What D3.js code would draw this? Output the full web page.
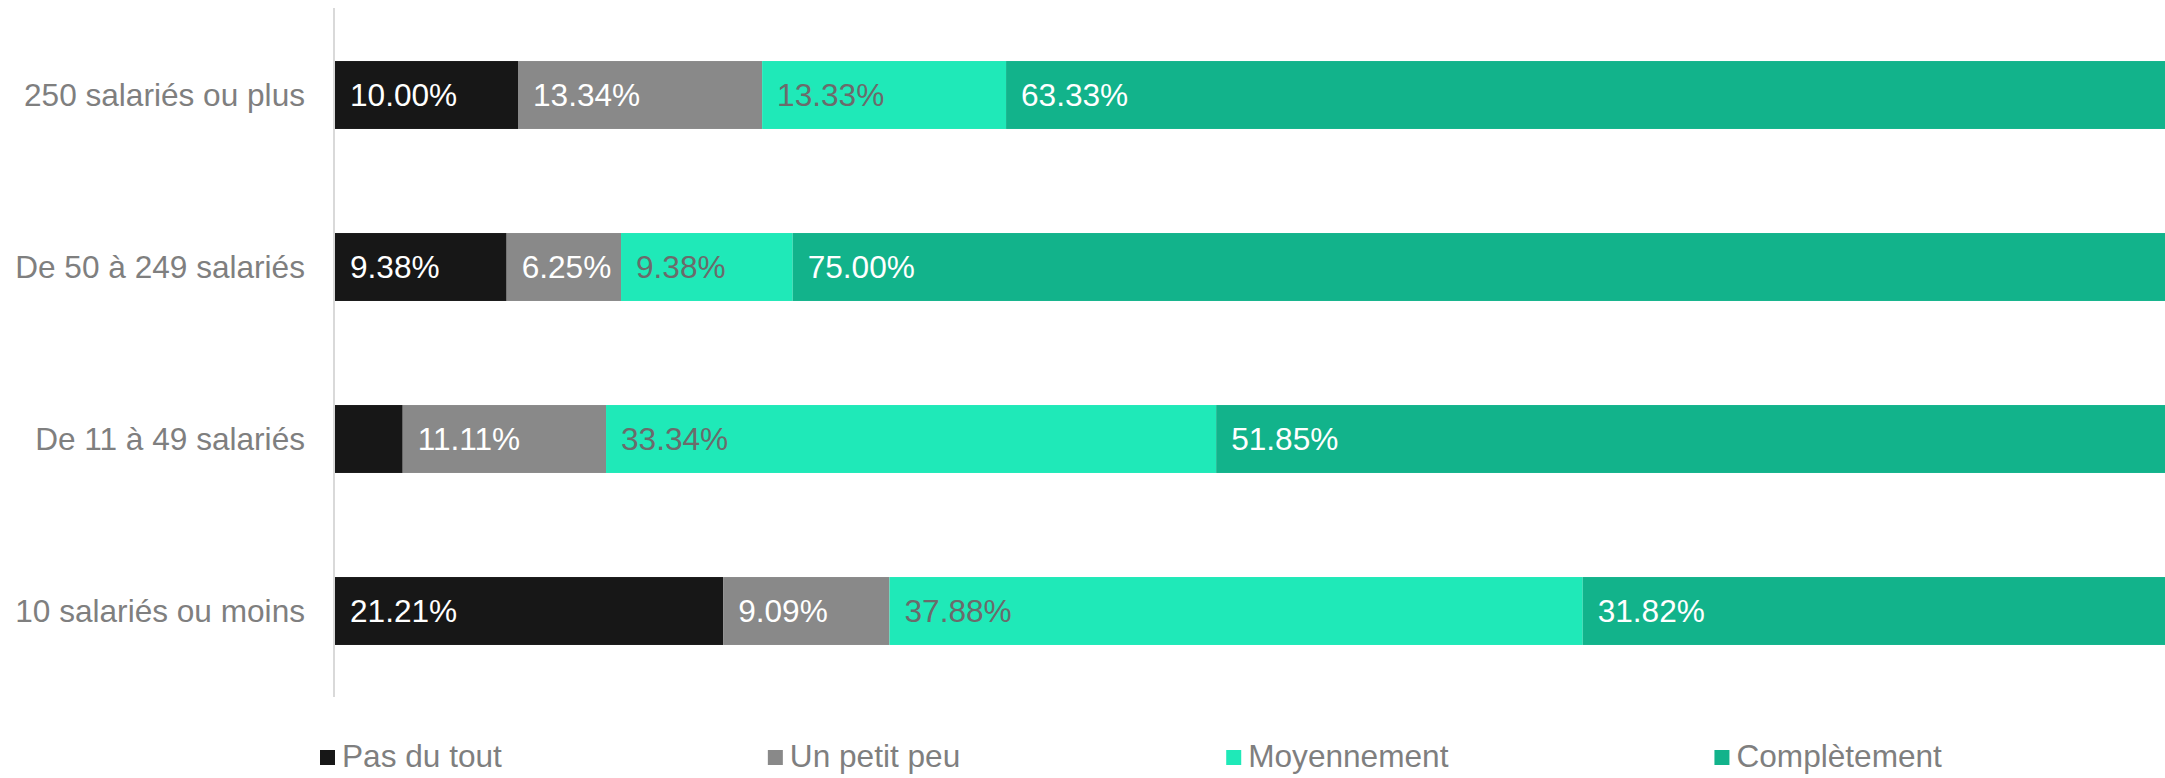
<!DOCTYPE html>
<html>
<head>
<meta charset="utf-8">
<script src="https://cdn.jsdelivr.net/npm/d3@7"></script>
<style>
  html, body { margin: 0; padding: 0; background: #ffffff; }
  svg { display: block; font-family: "Liberation Sans", Arial, sans-serif; }
</style>
</head>
<body>
<svg id="chart" width="2165" height="778"></svg>
<script>
// Company size groups, top to bottom
const categories = ["250 salariés ou plus", "De 50 à 249 salariés", "De 11 à 49 salariés", "10 salariés ou moins"];

// Answer levels, stacked left to right
const seriesNames = ["Pas du tout", "Un petit peu", "Moyennement", "Complètement"];

// Shares (%) per group, one array per answer level
const pasDuTout    = [10.00, 9.38, 3.70, 21.21];
const unPetitPeu   = [13.34, 6.25, 11.11, 9.09];
const moyennement  = [13.33, 9.38, 33.34, 37.88];
const completement = [63.33, 75.00, 51.85, 31.82];

const seriesColors = ["#171717", "#898989", "#1fe9b8", "#12b38b"];
const labelColors  = ["#ffffff", "#ffffff", "#6b6b6b", "#ffffff"];

const plot = { left: 335, right: 2165, top: 9, bottom: 697 };

const svg = d3.select("#chart");

const rows = categories.map((c, i) => ({
  category: c,
  "Pas du tout": pasDuTout[i],
  "Un petit peu": unPetitPeu[i],
  "Moyennement": moyennement[i],
  "Complètement": completement[i]
}));

const stacked = d3.stack().keys(seriesNames)(rows);

const x = d3.scaleLinear().domain([0, 100]).range([plot.left, plot.right]);
const y = d3.scaleBand().domain(categories).range([plot.top, plot.bottom])
  .paddingInner(0.605).paddingOuter(0.3025);

// Bars
const layers = svg.append("g").selectAll("g")
  .data(stacked)
  .join("g")
  .attr("fill", (d, i) => seriesColors[i]);

layers.selectAll("rect")
  .data(d => d)
  .join("rect")
  .attr("x", d => x(d[0]))
  .attr("y", d => y(d.data.category))
  .attr("width", d => x(d[1]) - x(d[0]))
  .attr("height", y.bandwidth());

// Value labels at the inner base of each segment, hidden when they do not fit
const labelPad = 15;
stacked.forEach((layer, si) => {
  layer.forEach(d => {
    const segW = x(d[1]) - x(d[0]);
    const t = svg.append("text")
      .attr("x", x(d[0]) + labelPad)
      .attr("y", y(d.data.category) + y.bandwidth() / 2)
      .attr("dy", "0.36em")
      .attr("font-size", 31.6)
      .attr("fill", labelColors[si])
      .text((d[1] - d[0]).toFixed(2) + "%");
    if (t.node().getComputedTextLength() + labelPad > segW) t.remove();
  });
});

// Category axis
const yAxis = svg.append("g")
  .attr("transform", `translate(${plot.left - 1},0)`)
  .call(d3.axisLeft(y).tickSize(0).tickPadding(29));
yAxis.select(".domain")
  .attr("d", `M0,${plot.top - 1}V${plot.bottom}`)
  .attr("stroke", "#d9d9d9").attr("stroke-width", 2);
yAxis.selectAll("text")
  .attr("font-size", 31.6)
  .attr("font-family", "Liberation Sans, Arial, sans-serif")
  .attr("fill", "#7f7f7f")
  .attr("dy", "0.36em");

// Legend
const legend = svg.append("g");
let lx = 320;
const legendGap = 266;
seriesNames.forEach((name, i) => {
  legend.append("rect")
    .attr("x", lx).attr("y", 750)
    .attr("width", 15).attr("height", 15)
    .attr("fill", seriesColors[i]);
  const t = legend.append("text")
    .attr("x", lx + 22).attr("y", 767)
    .attr("font-size", 31.6)
    .attr("fill", "#7f7f7f")
    .text(name);
  lx = lx + 22 + t.node().getComputedTextLength() + legendGap;
});
</script>
</body>
</html>
